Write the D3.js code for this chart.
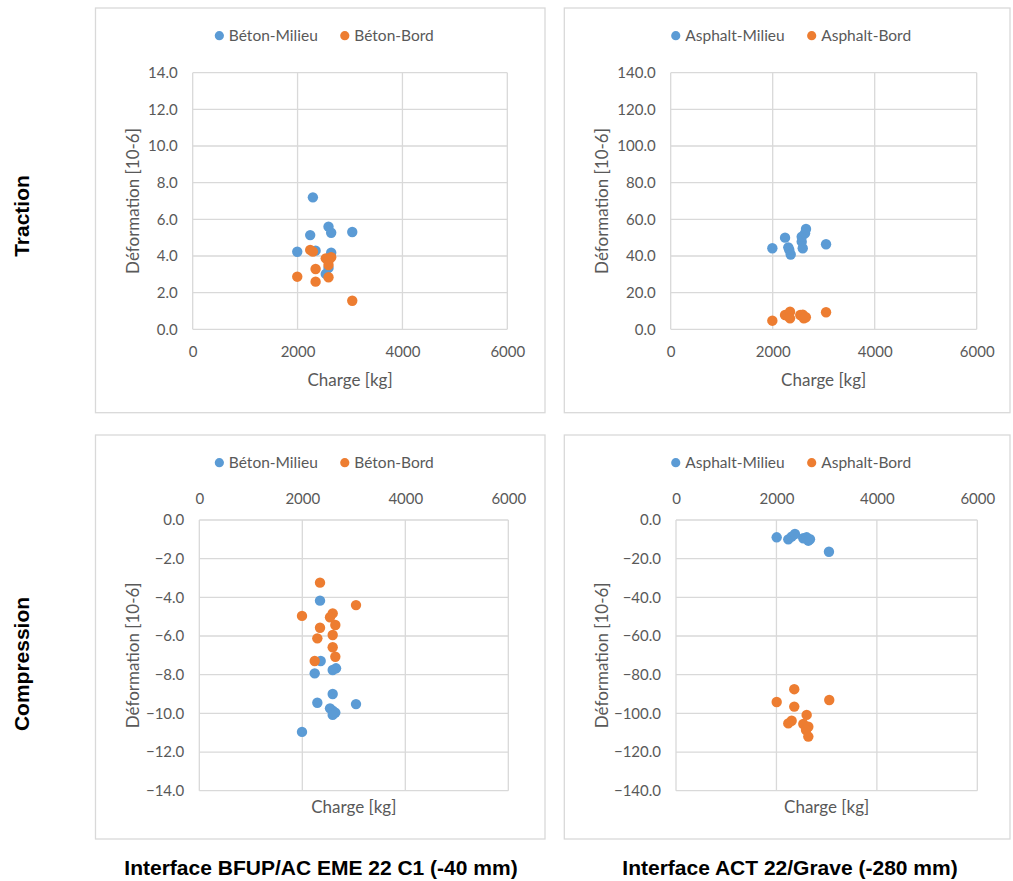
<!DOCTYPE html>
<html>
<head>
<meta charset="utf-8">
<script src="https://cdn.jsdelivr.net/npm/d3@7"></script>
<style>
    body { margin: 0; background: #fff; }
    svg { display: block; }
    text { font-family: Lato, "Open Sans", sans-serif; }
    text.title { font-family: "Liberation Sans", Arial, sans-serif; font-weight: bold; }
</style>
</head>
<body>
<div id="chart"></div>
<script>
// values: [charge kg, deformation 10-6]
const betonTractionMilieu = [[2292,7.2],[2590,5.6],[2641,5.27],[3043,5.31],[2241,5.14],[1994,4.23],
    [2344,4.29],[2641,4.18],[2590,3.35],[2538,3.02]];
const betonTractionBord = [[2241,4.33],[2292,4.24],[2538,3.87],[2641,3.93],[2590,3.75],[2590,3.51],
    [2344,3.29],[1994,2.87],[2590,2.84],[2344,2.6],[3043,1.56]];
const asphaltTractionMilieu = [[1993,44.2],[2242,50.0],[2306,44.7],[2326,43.3],[2353,40.8],[2569,47.8],
    [2569,50.5],[2634,52.4],[2653,54.7],[2589,44.2],[3046,46.4]];
const asphaltTractionBord = [[1993,4.7],[2242,7.8],[2300,7.2],[2340,9.6],[2340,6.0],[2540,7.8],
    [2590,8.0],[2610,6.0],[2650,6.6],[3046,9.3]];
const betonCompressionMilieu = [[2344,-4.17],[2357,-7.29],[2655,-7.67],[2590,-7.76],[2241,-7.93],[2590,-9.0],
    [2292,-9.45],[3043,-9.52],[2538,-9.74],[2590,-9.86],[2641,-9.96],[2590,-10.08],[1994,-10.96]];
const betonCompressionBord = [[2344,-3.24],[3043,-4.40],[1994,-4.96],[2590,-4.83],[2538,-5.03],[2641,-5.43],
    [2344,-5.57],[2590,-5.95],[2292,-6.12],[2590,-6.58],[2641,-7.07],[2241,-7.29]];
const asphaltCompressionMilieu = [[2005,-8.96],[2236,-10.0],[2303,-8.6],[2369,-7.24],[2535,-9.46],
    [2602,-8.96],[2635,-10.7],[2668,-9.98],[3046,-16.4]];
const asphaltCompressionBord = [[2355,-87.5],[2005,-94.1],[3052,-93.1],[2355,-96.5],[2602,-100.8],
    [2303,-103.8],[2236,-105.2],[2535,-105.5],[2635,-106.9],[2589,-108.6],[2635,-112.0]];

const chargeTicks = [0, 2000, 4000, 6000];
const betonTractionTicks = [0, 2, 4, 6, 8, 10, 12, 14];
const asphaltTractionTicks = [0, 20, 40, 60, 80, 100, 120, 140];
const betonCompressionTicks = [-14, -12, -10, -8, -6, -4, -2, 0];
const asphaltCompressionTicks = [-140, -120, -100, -80, -60, -40, -20, 0];

const betonNames = ["Béton-Milieu", "Béton-Bord"];
const asphaltNames = ["Asphalt-Milieu", "Asphalt-Bord"];
const rowTitles = ["Traction", "Compression"];
const colTitles = ["Interface BFUP/AC EME 22 C1 (-40 mm)", "Interface ACT 22/Grave (-280 mm)"];

const colors = ["#5B9BD5", "#ED7D31"];
const width = 1013, height = 881;

let svg = d3.select("#chart")
    .append("svg")
    .attr("width", width)
    .attr("height", height);

// box = chart frame, plot = inner plot area
let panels = [
    {box:[95.5,8,545,412.7], plot:[192.7,72.7,507.3,329.3], top:false,
        yTicks:betonTractionTicks, names:betonNames, series:[betonTractionMilieu, betonTractionBord]},
    {box:[564.3,8,1010,412.7], plot:[670.7,72.7,976.7,329.3], top:false,
        yTicks:asphaltTractionTicks, names:asphaltNames, series:[asphaltTractionMilieu, asphaltTractionBord]},
    {box:[95.5,435,545,839], plot:[199.3,520,508.3,790.7], top:true,
        yTicks:betonCompressionTicks, names:betonNames, series:[betonCompressionMilieu, betonCompressionBord]},
    {box:[564.3,435,1010,839], plot:[676,520,977.3,790.7], top:true,
        yTicks:asphaltCompressionTicks, names:asphaltNames, series:[asphaltCompressionMilieu, asphaltCompressionBord]}
];

function drawPanel(p){
    let [bx0, by0, bx1, by1] = p.box;
    let [px0, py0, px1, py1] = p.plot;
    let g = svg.append("g");

    g.append("rect")
        .attr("x", bx0).attr("y", by0)
        .attr("width", bx1 - bx0).attr("height", by1 - by0)
        .attr("fill", "#fff")
        .attr("stroke", "#D9D9D9")
        .attr("stroke-width", 1.3);

    let x = d3.scaleLinear()
        .domain(d3.extent(chargeTicks))
        .range([px0, px1]);
    let y = d3.scaleLinear()
        .domain(d3.extent(p.yTicks))
        .range([py1, py0]);

    // grid
    g.append("g")
        .attr("stroke", "#D9D9D9")
        .attr("stroke-width", 1.3)
        .call(grid => grid.selectAll(".x-grid-line")
            .data(chargeTicks)
            .join("line")
                .attr("class", "x-grid-line")
                .attr("x1", d => x(d)).attr("x2", d => x(d))
                .attr("y1", py0).attr("y2", py1))
        .call(grid => grid.selectAll(".y-grid-line")
            .data(p.yTicks)
            .join("line")
                .attr("class", "y-grid-line")
                .attr("x1", px0).attr("x2", px1)
                .attr("y1", d => y(d)).attr("y2", d => y(d)));

    let styleAxis = axis => {
        axis.select(".domain").remove();
        axis.selectAll("line").remove();
        axis.selectAll("text")
            .attr("fill", "#595959")
            .attr("font-size", 15)
            .attr("font-family", null);
    };

    g.append("g")
        .attr("transform", `translate(${px0},0)`)
        .call(d3.axisLeft(y).tickValues(p.yTicks).tickFormat(d3.format(".1f")).tickSize(0).tickPadding(15))
        .call(styleAxis);

    let xAxis = g.append("g");
    if(p.top){
        xAxis.attr("transform", `translate(0,${py0})`)
            .call(d3.axisTop(x).tickValues(chargeTicks).tickFormat(d3.format("d")).tickSize(0).tickPadding(0))
            .call(styleAxis);
        xAxis.selectAll("text").attr("y", -21).attr("dy", "0.35em");
    }else{
        xAxis.attr("transform", `translate(0,${py1})`)
            .call(d3.axisBottom(x).tickValues(chargeTicks).tickFormat(d3.format("d")).tickSize(0).tickPadding(0))
            .call(styleAxis);
        xAxis.selectAll("text").attr("y", 22).attr("dy", "0.35em");
    }

    // axis titles
    g.append("text")
        .attr("x", (px0 + px1) / 2)
        .attr("y", p.top ? py1 + 16 : py1 + 51)
        .attr("dy", "0.35em")
        .attr("text-anchor", "middle")
        .attr("fill", "#595959")
        .attr("font-size", 17)
        .text("Charge [kg]");

    g.append("text")
        .attr("transform", `translate(${bx0 + 37.5},${(py0 + py1) / 2}) rotate(-90)`)
        .attr("dy", "0.35em")
        .attr("text-anchor", "middle")
        .attr("fill", "#595959")
        .attr("font-size", 17)
        .text("Déformation [10-6]");

    // points, second series on top
    p.series.forEach((data, i) => {
        g.append("g")
            .selectAll("circle")
            .data(data)
            .join("circle")
                .attr("cx", d => x(d[0]))
                .attr("cy", d => y(d[1]))
                .attr("r", 5.2)
                .attr("fill", colors[i]);
    });

    // legend, centred over the frame
    let legend = g.append("g");
    let ly = by0 + 27.7;
    let items = p.names.map((name, i) => {
        let item = legend.append("g");
        item.append("circle").attr("r", 4.6).attr("fill", colors[i]);
        let t = item.append("text")
            .attr("x", 9.5)
            .attr("dy", "0.35em")
            .attr("fill", "#595959")
            .attr("font-size", 15.5)
            .text(name);
        return {item: item, w: 9.5 + t.node().getComputedTextLength()};
    });
    let gap = 27;
    let total = 4.6 + d3.sum(items, d => d.w) + gap * (items.length - 1);
    let cx = (bx0 + bx1) / 2 + 4 - total / 2 + 4.6;
    items.forEach(d => {
        d.item.attr("transform", `translate(${cx},${ly})`);
        cx += d.w + gap;
    });
}

panels.forEach(drawPanel);

// row and column titles
svg.selectAll(".row-title")
    .data(rowTitles)
    .join("text")
        .attr("class", "title row-title")
        .attr("transform", (d, i) => `translate(22,${[216, 664][i]}) rotate(-90)`)
        .attr("dy", "0.35em")
        .attr("text-anchor", "middle")
        .attr("font-size", 21)
        .attr("fill", "#000")
        .text(d => d);

svg.selectAll(".col-title")
    .data(colTitles)
    .join("text")
        .attr("class", "title col-title")
        .attr("x", (d, i) => [321, 790][i])
        .attr("y", 868)
        .attr("dy", "0.35em")
        .attr("text-anchor", "middle")
        .attr("font-size", 21)
        .attr("fill", "#000")
        .text(d => d);
</script>
</body>
</html>
